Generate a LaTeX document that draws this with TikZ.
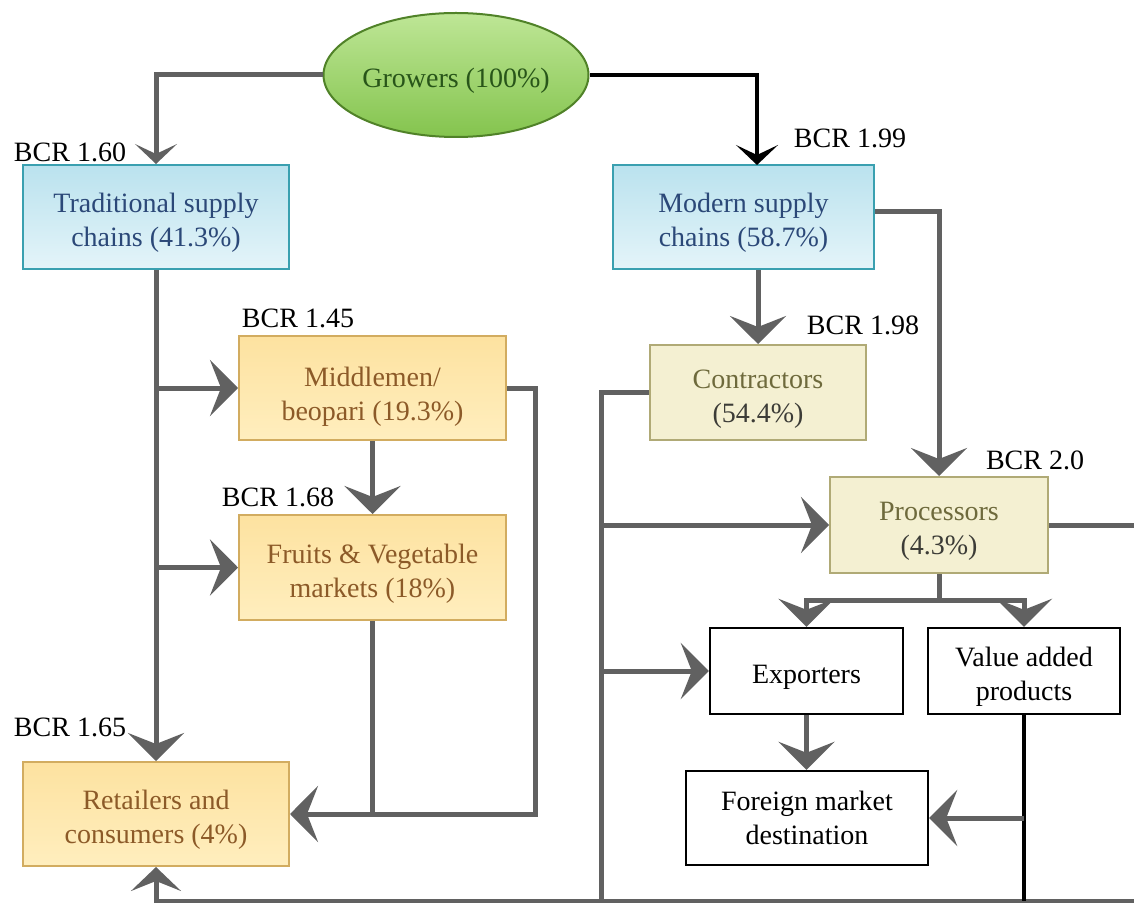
\documentclass[tikz,border=0pt]{standalone}
\usepackage{fontspec}
\setmainfont{Liberation Serif}
\usetikzlibrary{shapes.geometric,arrows.meta}

\definecolor{linegray}{RGB}{97,97,97}
\definecolor{greentop}{RGB}{190,230,150}
\definecolor{greenbot}{RGB}{132,196,78}
\definecolor{greenedge}{RGB}{80,130,40}
\definecolor{greentext}{RGB}{40,85,25}
\definecolor{bluetop}{RGB}{186,226,238}
\definecolor{bluebot}{RGB}{228,244,249}
\definecolor{blueedge}{RGB}{58,160,176}
\definecolor{bluetext}{RGB}{43,72,120}
\definecolor{yeltop}{RGB}{253,226,160}
\definecolor{yelbot}{RGB}{255,238,190}
\definecolor{yeledge}{RGB}{210,172,96}
\definecolor{yeltext}{RGB}{140,90,40}
\definecolor{khafill}{RGB}{244,240,210}
\definecolor{khaedge}{RGB}{176,170,118}
\definecolor{khatext}{RGB}{110,106,60}
\definecolor{khadark}{RGB}{60,60,55}

% invisible strut that sets box text a little below the box centre
\newcommand{\dropline}{\rule{0pt}{15.5pt}}

\begin{document}
\begin{tikzpicture}[x=0.5pt,y=-0.5pt,
  font=\fontsize{14}{17}\selectfont,
  box/.style={rectangle, line width=1pt, inner sep=0pt, align=center},
  bluebox/.style={box, draw=blueedge, top color=bluetop, bottom color=bluebot, text=bluetext},
  yelbox/.style={box, draw=yeledge, top color=yeltop, bottom color=yelbot, text=yeltext},
  khabox/.style={box, draw=khaedge, fill=khafill, text=khatext},
  whitebox/.style={box, draw=black, line width=1.2pt, fill=white, text=black},
  flow/.style={draw=linegray, line width=2.5pt},
  blackflow/.style={draw=black, line width=2pt},
  bigtip/.style={-{Stealth[length=14pt,width=28pt,inset=5.5pt]}},
  smalltip/.style={-{Stealth[length=10pt,width=21pt,inset=5pt]}},
  upwardtip/.style={-{Stealth[length=12pt,width=25pt,inset=5pt]}},
  bcr/.style={text=black, inner sep=0pt}]

\useasboundingbox (0,0) rectangle (1134,903);

% ---- nodes ----
\node[ellipse, draw=greenedge, line width=1pt, top color=greentop, bottom color=greenbot,
      minimum width=121.5pt, minimum height=62pt, inner sep=0pt, text=greentext]
      (grow) at (456,75) {\dropline Growers (100\%)};

\node[bluebox, minimum width=133pt, minimum height=52pt] (trad) at (156,217)
      {\dropline Traditional supply\\chains (41.3\%)};
\node[bluebox, minimum width=130.5pt, minimum height=52pt] (modern) at (743.5,217)
      {\dropline Modern supply\\chains (58.7\%)};

\node[yelbox, minimum width=133.5pt, minimum height=52pt] (middle) at (372.5,388)
      {\rule{0pt}{18pt}Middlemen/\\beopari (19.3\%)};
\node[yelbox, minimum width=133.5pt, minimum height=52.5pt] (fruits) at (372.5,567.5)
      {\dropline Fruits \& Vegetable\\markets (18\%)};
\node[yelbox, minimum width=133pt, minimum height=52pt] (retail) at (156,814)
      {\dropline Retailers and\\consumers (4\%)};

\node[khabox, minimum width=108pt, minimum height=47.5pt] (contr) at (758,392.5)
      {\dropline Contractors\\\textcolor{khadark}{(54.4\%)}};
\node[khabox, minimum width=109pt, minimum height=48pt] (proc) at (939,525)
      {\dropline Processors\\\textcolor{khadark}{(4.3\%)}};

\node[whitebox, minimum width=96.5pt, minimum height=43pt] (export) at (806.5,671)
      {\dropline Exporters};
\node[whitebox, minimum width=96pt, minimum height=43pt] (value) at (1024,671)
      {\dropline Value added\\products};
\node[whitebox, minimum width=121pt, minimum height=47pt] (foreign) at (807,818)
      {Foreign market\\destination};

% ---- BCR labels ----
\node[bcr] (b160) at (70,152) {BCR 1.60};
\node[bcr] (b199) at (850,138) {BCR 1.99};
\node[bcr] (b145) at (298,318) {BCR 1.45};
\node[bcr] (b198) at (863,325) {BCR 1.98};
\node[bcr] (b168) at (278,497) {BCR 1.68};
\node[bcr] (b20)  at (1035,460) {BCR 2.0};
\node[bcr] (b165) at (70,727) {BCR 1.65};

% ---- junction coordinates ----
\coordinate (modin) at (757,165);
\coordinate (cbot) at (601,901);
\coordinate (pj) at (939,600);
\coordinate (vbot) at (1024,901);
\coordinate (rj) at (535,814);
\coordinate (bl) at (156,901);
\coordinate (br) at (1134,901);

% ---- connectors ----
\draw[flow, smalltip] (grow.west) -| (trad.north);
\draw[blackflow, smalltip] (grow.east) -| (modin);

\draw[flow, bigtip] (trad.south) -- (retail.north);
\draw[flow, bigtip] (middle.west -| trad.south) -- (middle.west);
\draw[flow, bigtip] (fruits.west -| trad.south) -- (fruits.west);
\draw[flow, bigtip] (middle.south) -- (fruits.north);
\draw[flow, bigtip] (middle.east) -| (rj) -- (retail.east);
\draw[flow] (fruits.south) -- (fruits.south |- retail.east);
\draw[flow, upwardtip] (br) -- (bl) -- (retail.south);

\draw[flow, bigtip] (contr.north |- modern.south) -- (contr.north);
\draw[flow, bigtip] ([yshift=2.5pt]modern.east) -| (proc.north);
\draw[flow] (contr.west) -| (cbot);
\draw[flow, bigtip] (proc.west -| cbot) -- (proc.west);
\draw[flow, bigtip] (export.west -| cbot) -- (export.west);
\draw[flow] (proc.east) -- (proc.east -| br);

\draw[flow] (proc.south) -- (pj);
\draw[flow, bigtip] (pj) -| (export.north);
\draw[flow, bigtip] (pj) -| (value.north);
\draw[flow, bigtip] (export.south) -- (export.south |- foreign.north);
\draw[blackflow] (value.south) -- (vbot);
\draw[flow, bigtip] (foreign.east -| vbot) -- (foreign.east);

\end{tikzpicture}
\end{document}
